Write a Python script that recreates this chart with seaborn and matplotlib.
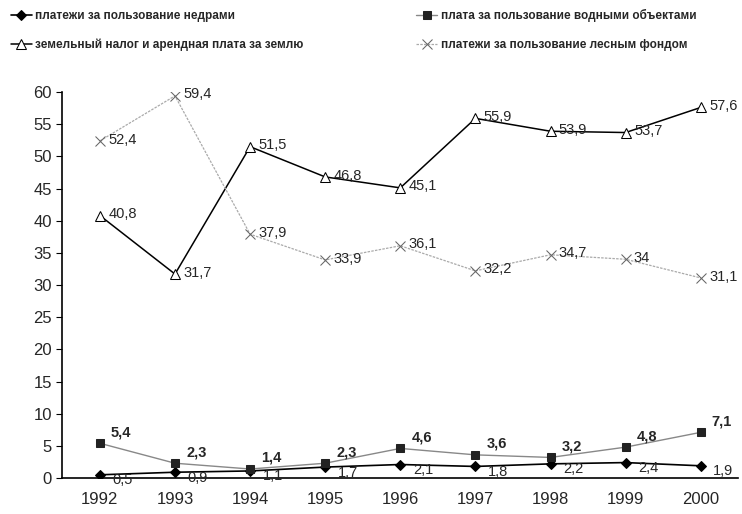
import numpy as np
import pandas as pd
import matplotlib
matplotlib.use("Agg")
import matplotlib.pyplot as plt
import seaborn as sns

# данные
years = [1992, 1993, 1994, 1995, 1996, 1997, 1998, 1999, 2000]
nedra = [0.5, 0.9, 1.1, 1.7, 2.1, 1.8, 2.2, 2.4, 1.9]
voda = [5.4, 2.3, 1.4, 2.3, 4.6, 3.6, 3.2, 4.8, 7.1]
zemlya = [40.8, 31.7, 51.5, 46.8, 45.1, 55.9, 53.9, 53.7, 57.6]
les = [52.4, 59.4, 37.9, 33.9, 36.1, 32.2, 34.7, 34, 31.1]

names = ["платежи за пользование недрами",
         "плата за пользование водными объектами",
         "земельный налог и арендная плата за землю",
         "платежи за пользование лесным фондом"]

sns.set_style("white")
plt.rcParams['font.family'] = ['Liberation Sans', 'DejaVu Sans']

fig = plt.figure(figsize=(7.42, 5.14), dpi=100)
ax = fig.add_axes([0.084, 0.070, 0.911, 0.751])

def fmt(v):
    s = ('%g' % v).replace('.', ',')
    return s

# недра
sns.lineplot(x=years, y=nedra, ax=ax, color='black', lw=1.2, marker='D',
             markersize=5, markeredgecolor='black', label=names[0])
# вода
sns.lineplot(x=years, y=voda, ax=ax, color='#888888', lw=1.0, marker='s',
             markersize=6, markerfacecolor='#222222', markeredgecolor='#222222',
             label=names[1])
# земля
sns.lineplot(x=years, y=zemlya, ax=ax, color='black', lw=1.1, marker='^',
             markersize=6.5, markerfacecolor='white', markeredgecolor='black',
             label=names[2])
# лес
sns.lineplot(x=years, y=les, ax=ax, color='#aaaaaa', lw=0.9, ls=(0, (2, 1)),
             marker='x', markersize=6.5, markeredgecolor='#666666',
             label=names[3])

for x, v in zip(years, nedra):
    ax.annotate(fmt(v), (x, v), xytext=(9, -4), textcoords='offset points',
                fontsize=10.5, va='center')
for x, v in zip(years, voda):
    ax.annotate(fmt(v), (x, v), xytext=(8, 8), textcoords='offset points',
                fontsize=10.5, va='center', fontweight='bold')
for x, v in zip(years, zemlya):
    ax.annotate(fmt(v), (x, v), xytext=(6, 1), textcoords='offset points',
                fontsize=10.5, va='center')
for x, v in zip(years, les):
    ax.annotate(fmt(v), (x, v), xytext=(6, 1), textcoords='offset points',
                fontsize=10.5, va='center')

ax.set_xlim(1991.5, 2000.3)
ax.set_ylim(0, 60)
ax.set_yticks(range(0, 61, 5))
ax.set_xticks(years)
ax.set_xticks(np.arange(1991.5, 2000.6, 1.0), minor=True)
ax.tick_params(axis='x', which='major', length=0, pad=10, labelsize=12)
ax.tick_params(axis='x', which='minor', length=4, direction='out', color='black')
ax.tick_params(axis='y', length=4, direction='out', labelsize=12, color='black', left=True)

for sp in ['top', 'right']:
    ax.spines[sp].set_visible(False)
for sp in ['left', 'bottom']:
    ax.spines[sp].set_color('black')
    ax.spines[sp].set_linewidth(1.2)

handles, labels = ax.get_legend_handles_labels()
ax.get_legend().remove()
order = [0, 2, 1, 3]
fig.legend([handles[i] for i in order], [labels[i] for i in order],
           loc='upper left', bbox_to_anchor=(0.0, 1.003), ncol=2, frameon=False,
           prop={'weight': 'bold', 'size': 8.5}, handlelength=1.8,
           handletextpad=0.3, columnspacing=9.5, labelspacing=1.4)

fig.savefig('out.png', dpi=100)
